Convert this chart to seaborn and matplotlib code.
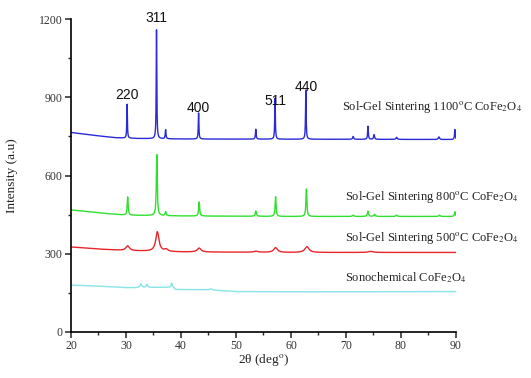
import numpy as np
import pandas as pd
import matplotlib
matplotlib.use("Agg")
import matplotlib.pyplot as plt
from matplotlib.ticker import MultipleLocator
import seaborn as sns

# ---- XRD data (2-theta in degrees, intensity in a.u.) ----
samples = [
    "Sonochemical CoFe$_{2}$O$_{4}$",
    "Sol-Gel Sintering 500$^{\\mathrm{o}}$C CoFe$_{2}$O$_{4}$",
    "Sol-Gel Sintering 800$^{\\mathrm{o}}$C CoFe$_{2}$O$_{4}$",
    "Sol-Gel Sintering 1100$^{\\mathrm{o}}$C CoFe$_{2}$O$_{4}$",
]
colors = ["#86e4ea", "#e8262a", "#2fe02f", "#2a2ad6"]

# background levels: (2theta, intensity)
bg_sono_x = [20, 25, 30, 32, 38.5, 39.0, 45, 50, 60, 90]
bg_sono_y = [180, 176, 170, 170, 172, 163, 162, 155, 154, 155]
bg_500_x = [20, 25, 30, 40, 60, 90]
bg_500_y = [326, 318, 312, 307, 305, 305]
bg_800_x = [20, 23, 26, 30, 40, 60, 90]
bg_800_y = [468, 462, 455, 448, 445, 443, 443]
bg_1100_x = [20, 22, 25, 28, 32, 40, 90]
bg_1100_y = [765, 760, 752, 745, 742, 740, 738]

# reflections: position (deg), height above background, FWHM (deg)
pk_sono_pos = [32.7, 33.8, 38.3, 45.4]
pk_sono_h = [14, 12, 16, 4]
pk_sono_w = [0.35, 0.35, 0.2, 0.4]

pk_500_pos = [30.3, 35.7, 37.3, 43.3, 53.6, 57.2, 62.9, 74.5]
pk_500_h = [18, 75, 8, 15, 4, 18, 22, 4]
pk_500_w = [0.8, 0.7, 0.7, 0.8, 0.9, 0.8, 0.9, 1.0]

pk_800_pos = [30.3, 35.6, 37.2, 43.3, 53.6, 57.2, 62.8, 71.3, 74.0, 75.2, 79.2, 87.0, 89.8]
pk_800_h = [70, 234, 15, 54, 20, 75, 105, 5, 20, 8, 5, 5, 18]
pk_800_w = [0.2, 0.2, 0.2, 0.2, 0.25, 0.2, 0.2, 0.3, 0.25, 0.3, 0.3, 0.3, 0.2]

pk_1100_pos = [30.2, 35.55, 37.2, 43.2, 53.6, 57.1, 62.7, 71.3, 74.0, 75.1, 79.2, 86.9, 89.8]
pk_1100_h = [130, 429, 35, 100, 38, 157, 188, 11, 50, 18, 8, 10, 38]
pk_1100_w = [0.12, 0.12, 0.15, 0.13, 0.15, 0.13, 0.13, 0.2, 0.15, 0.2, 0.25, 0.25, 0.15]

hkl_labels = ["220", "311", "400", "511", "440"]
hkl_pos = [30.2, 35.55, 43.2, 57.1, 62.7]
hkl_y = [910, 1205, 860, 885, 940]

label_x = [69.9, 69.9, 69.9, 69.3]
label_y = [207, 360, 518, 863]

two_theta = np.arange(20.0, 90.0001, 0.02)


def pattern(bx, by, pos, h, w):
    y = np.interp(two_theta, bx, by)
    for p, a, f in zip(pos, h, w):
        g = (f / 2) ** 2
        y = y + a * g / ((two_theta - p) ** 2 + g)
    return y


curves = [
    pattern(bg_sono_x, bg_sono_y, pk_sono_pos, pk_sono_h, pk_sono_w),
    pattern(bg_500_x, bg_500_y, pk_500_pos, pk_500_h, pk_500_w),
    pattern(bg_800_x, bg_800_y, pk_800_pos, pk_800_h, pk_800_w),
    pattern(bg_1100_x, bg_1100_y, pk_1100_pos, pk_1100_h, pk_1100_w),
]

df = pd.concat(
    [pd.DataFrame({"two_theta": two_theta, "intensity": c, "sample": s})
     for s, c in zip(samples, curves)],
    ignore_index=True,
)

sns.set_theme(style="ticks")
plt.rcParams["font.family"] = ["Liberation Serif", "DejaVu Serif"]
plt.rcParams["mathtext.fontset"] = "stix"

fig = plt.figure(figsize=(5.31, 3.78), dpi=100)
ax = fig.add_axes([0.1337, 0.1217, 0.725, 0.828])

sns.lineplot(data=df, x="two_theta", y="intensity", hue="sample",
             palette=dict(zip(samples, colors)), linewidth=1.0,
             legend=False, ax=ax, sort=False, estimator=None)

ax.set_xlim(20, 90)
ax.set_ylim(0, 1200)
ax.xaxis.set_major_locator(MultipleLocator(10))
ax.xaxis.set_minor_locator(MultipleLocator(5))
ax.yaxis.set_major_locator(MultipleLocator(300))
ax.yaxis.set_minor_locator(MultipleLocator(150))
ax.tick_params(which="major", direction="out", length=4, width=1.1,
               labelsize=8.5, labelcolor="#333333", pad=2)
ax.tick_params(which="minor", direction="out", length=2.5, width=1.0)
for side in ["top", "right"]:
    ax.spines[side].set_visible(False)
for side in ["left", "bottom"]:
    ax.spines[side].set_linewidth(1.2)
    ax.spines[side].set_color("black")

ax.set_xlabel("2θ (deg$^{\\mathrm{o}}$)", fontsize=9.5, color="#222222")
ax.set_ylabel("Intensity (a.u)", fontsize=9.5, color="#222222")
ax.xaxis.set_label_coords(0.5, -0.064)
ax.yaxis.set_label_coords(-0.138, 0.5)

for lab, x, y in zip(hkl_labels, hkl_pos, hkl_y):
    ax.text(x, y, lab, ha="center", va="center", fontsize=10,
            family=["Liberation Sans", "DejaVu Sans"], color="#111111")

for s, x, y in zip(samples, label_x, label_y):
    ax.text(x, y, s, ha="left", va="center", fontsize=9,
            color="#222222", clip_on=False)

fig.savefig("out.png", dpi=100)
